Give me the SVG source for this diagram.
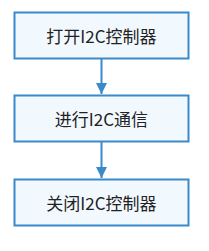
<svg xmlns="http://www.w3.org/2000/svg" width="209" height="251" viewBox="0 0 209 251">
<style>
.box{fill:#f2f9fe;stroke:#3a89c9;stroke-width:2}
.t{font-family:"Noto Sans CJK SC","Liberation Sans",sans-serif;font-size:17px;fill:#222;text-anchor:middle;dominant-baseline:central}
.c{stroke:#3a89c9;stroke-width:2;fill:none}
</style>
<defs>
<marker id="ah" markerWidth="12" markerHeight="12" refX="11" refY="5.5" orient="auto" markerUnits="userSpaceOnUse">
<path d="M0,0 L11,5.5 L0,11 Z" fill="#3a89c9"/>
</marker>
</defs>
<g id="n1"><rect class="box" x="14.5" y="12.5" width="174" height="46"/><text class="t" x="101.5" y="35">打开I2C控制器</text></g>
<g id="n2"><rect class="box" x="14.5" y="95.5" width="174" height="46"/><text class="t" x="101.5" y="118">进行I2C通信</text></g>
<g id="n3"><rect class="box" x="14.5" y="179.5" width="174" height="46"/><text class="t" x="101.5" y="202">关闭I2C控制器</text></g>
<g id="connectors">
<line class="c" x1="101.5" y1="59" x2="101.5" y2="94" marker-end="url(#ah)"/>
<line class="c" x1="101.5" y1="142" x2="101.5" y2="178" marker-end="url(#ah)"/>
</g>
</svg>
